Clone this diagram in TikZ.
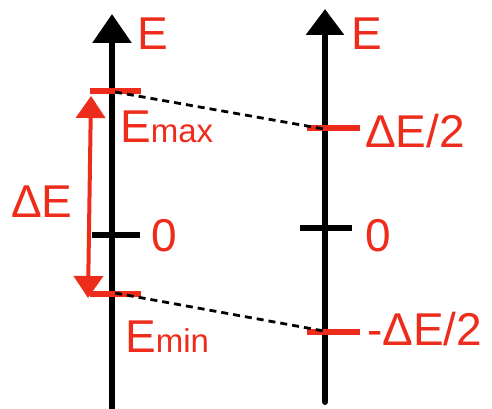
\documentclass[tikz,border=0pt]{standalone}
\usepackage{fontspec}
\setmainfont{Liberation Sans}
\usetikzlibrary{arrows.meta}
\definecolor{sred}{HTML}{EE2C1C}
\tikzset{
  axis/.style={line width=6pt, black, line cap=round},
  redtick/.style={line width=5.5pt, sred},
  blacktick/.style={line width=6pt, black},
  dashline/.style={line width=2.8pt, black, dash pattern=on 7pt off 5pt},
  lbl/.style={anchor=base west, inner sep=0pt, text=sred, font=\fontsize{46}{50}\selectfont},
}
\begin{document}
\begin{tikzpicture}[x=1pt,y=-1pt]
\useasboundingbox (0,0) rectangle (492,409);
% coordinates
\coordinate (LB) at (112,409);
\coordinate (LT) at (112,14);
\coordinate (RB) at (325,402);
\coordinate (RT) at (325,9);
\coordinate (Lmax) at (115,92);
\coordinate (Lmin) at (115,293);
\coordinate (Rmax) at (324,129);
\coordinate (Rmin) at (324,331);
% axes
\draw[axis, -{Triangle[width=38pt,length=29pt]}] (LB) -- (LT);
\draw[axis, -{Triangle[width=37pt,length=26pt]}] (RB) -- (RT);
% ticks
\draw[blacktick] (92,235) -- (140,235);
\draw[blacktick] (300,228) -- (352,228);
\draw[redtick] (90,91) -- (141,91);
\draw[redtick] (90,294) -- (141,294);
\draw[redtick] (307,128) -- (360,128);
\draw[redtick] (307,332) -- (360,332);
% red double arrow
\coordinate (At) at (91,96);
\coordinate (Ab) at (88,298);
\draw[sred, line width=4pt, {Triangle[width=29pt,length=22pt]}-{Triangle[width=29pt,length=22pt]}] (At) -- (Ab);
% dashed connectors
\draw[dashline] (Lmax) -- (Rmax);
\draw[dashline] (Lmin) -- (Rmin);
% labels
\node[lbl] (eL) at (137,50) {E};
\node[lbl] (eR) at (351,50) {E};
\node[lbl] (emax) at (120,142) {E{\fontsize{33}{35}\selectfont max}};
\node[lbl] (emin) at (125,352) {E{\fontsize{33}{35}\selectfont min}};
\node[lbl] (dE) at (11,217) {ΔE};
\node[lbl] (z1) at (151,251) {0};
\node[lbl] (z2) at (365,251) {0};
\node[lbl] (hp) at (365,147) {ΔE/2};
\node[lbl] (hm) at (367,345) {-ΔE/2};
\end{tikzpicture}
\end{document}
